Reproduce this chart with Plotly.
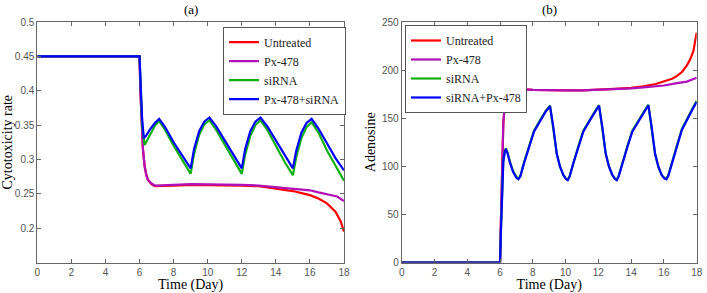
import plotly.graph_objects as go

# ---------------- Panel (a): Cytotoxicity rate ----------------
t_a_red = [0, 6.0, 6.05, 6.1, 6.2, 6.3, 6.4, 6.5, 6.7, 6.9, 7.5, 8, 9, 10, 11, 12, 13, 14, 15, 16, 16.5, 17, 17.5, 17.8, 18]
a_untreated = [0.45, 0.45, 0.40, 0.36, 0.315, 0.29, 0.277, 0.27, 0.264, 0.261, 0.261, 0.262, 0.263, 0.263, 0.263, 0.262, 0.261, 0.2576, 0.254, 0.248, 0.243, 0.236, 0.224, 0.21, 0.195]

t_a_px = [0, 6.0, 6.05, 6.1, 6.2, 6.3, 6.4, 6.5, 6.7, 6.9, 7.5, 8, 9, 10, 11, 12, 13, 14, 15, 16, 16.5, 17, 17.3, 17.6, 18]
a_px478 = [0.45, 0.45, 0.40, 0.36, 0.315, 0.29, 0.277, 0.27, 0.265, 0.262, 0.262, 0.263, 0.264, 0.264, 0.264, 0.263, 0.262, 0.260, 0.2576, 0.2551, 0.252, 0.249, 0.248, 0.246, 0.2395]

t_a_si = [0, 6.0, 6.08, 6.15, 6.3, 6.45, 6.6, 6.9, 7.15, 7.5, 8, 8.5, 9, 9.2, 9.5, 9.8, 10.1, 10.5, 11, 11.5, 12, 12.2, 12.5, 12.8, 13.1, 13.5, 14, 14.5, 15, 15.2, 15.5, 15.8, 16.1, 16.5, 17, 17.5, 18]
a_sirna = [0.45, 0.45, 0.40, 0.35, 0.321, 0.328, 0.337, 0.349, 0.356, 0.343, 0.32, 0.299, 0.279, 0.308, 0.336, 0.351, 0.357, 0.343, 0.321, 0.299, 0.279, 0.307, 0.334, 0.350, 0.357, 0.343, 0.319, 0.297, 0.277, 0.304, 0.331, 0.347, 0.354, 0.339, 0.313, 0.290, 0.269]

t_a_combo = [0, 6.0, 6.08, 6.15, 6.25, 6.4, 6.6, 6.9, 7.15, 7.5, 8.0, 8.5, 9.0, 9.2, 9.5, 9.8, 10.1, 10.5, 11.0, 11.5, 12.0, 12.2, 12.5, 12.8, 13.1, 13.5, 14, 14.5, 15, 15.2, 15.5, 15.8, 16.1, 16.5, 17, 17.5, 18]
a_combo = [0.45, 0.45, 0.40, 0.36, 0.331, 0.335, 0.343, 0.353, 0.359, 0.347, 0.325, 0.305, 0.287, 0.315, 0.341, 0.355, 0.361, 0.348, 0.327, 0.306, 0.287, 0.315, 0.341, 0.355, 0.361, 0.348, 0.327, 0.306, 0.287, 0.313, 0.339, 0.353, 0.359, 0.345, 0.323, 0.302, 0.284]

# ---------------- Panel (b): Adenosine ----------------
t_b_red = [0, 6.0, 6.05, 6.1, 6.15, 6.2, 6.3, 6.4, 6.5, 6.6, 6.8, 7.0, 8, 9, 10, 11, 12, 13, 14, 14.75, 15.5, 16, 16.5, 16.8, 17.1, 17.4, 17.6, 17.8, 17.9, 18]
b_untreated = [0, 0, 40, 85, 120, 145, 165, 174, 178, 180, 181, 180.5, 179.5, 179, 179, 179, 179.5, 180.5, 181.5, 183, 185.5, 188, 191, 194, 198, 205, 211, 220, 228, 239]

t_b_px = [0, 6.0, 6.05, 6.1, 6.15, 6.2, 6.3, 6.4, 6.5, 6.6, 6.8, 7.0, 8, 9, 10, 11, 12, 13, 14, 14.75, 15.5, 16, 16.8, 17.4, 18]
b_px478 = [0, 0, 40, 85, 120, 145, 165, 174, 178, 180, 181, 180.5, 179.5, 179, 179, 179, 179.5, 180, 181, 182, 183, 184, 186.4, 188, 192]

t_b_si = [0, 6.0, 6.05, 6.1, 6.2, 6.3, 6.36, 6.45, 6.6, 6.8, 7.0, 7.12, 7.24, 7.46, 7.77, 8.07, 8.48, 8.79, 9.05, 9.25, 9.46, 9.66, 9.86, 10.01, 10.13, 10.25, 10.47, 10.78, 11.08, 11.49, 11.8, 12.04, 12.24, 12.45, 12.65, 12.85, 13.0, 13.12, 13.24, 13.46, 13.77, 14.07, 14.48, 14.8, 15.05, 15.25, 15.46, 15.66, 15.86, 16.02, 16.15, 16.27, 16.49, 16.8, 17.1, 17.5, 17.8, 18]
b_sirna = [0, 0, 31, 66, 106, 117, 118.5, 115, 105, 95, 89, 87, 90, 104, 121, 137, 149, 157.5, 163, 141, 113, 99.5, 91, 87.5, 86, 90, 104, 121, 137, 149, 157.5, 163.5, 141, 113, 99.5, 91, 87.5, 86, 90, 104, 121, 137, 149, 157.5, 164, 141, 113, 99.5, 91, 88, 87, 91, 105, 122, 139, 153, 162, 168]

t_b_combo = [0, 6.0, 6.05, 6.1, 6.2, 6.3, 6.36, 6.45, 6.6, 6.8, 7.0, 7.12, 7.24, 7.46, 7.77, 8.07, 8.48, 8.79, 9.05, 9.25, 9.46, 9.66, 9.86, 10.01, 10.13, 10.25, 10.47, 10.78, 11.08, 11.49, 11.8, 12.04, 12.24, 12.45, 12.65, 12.85, 13.0, 13.12, 13.24, 13.46, 13.77, 14.07, 14.48, 14.8, 15.05, 15.25, 15.46, 15.66, 15.86, 16.02, 16.15, 16.27, 16.49, 16.8, 17.1, 17.5, 17.8, 18]
b_combo = [0, 0, 30, 65, 105, 116, 117.4, 114, 104, 94, 88, 86.5, 89.5, 103, 120, 136, 148, 157, 162.5, 141, 113, 99.5, 91, 87, 85.6, 89.5, 103, 120, 136, 148, 157, 163, 141, 113, 99.5, 91, 87, 85.6, 89.5, 103, 120, 136, 148, 157, 163.5, 141, 113, 99.5, 91, 87.5, 86.5, 90, 104, 121, 138, 152, 161, 166.7]

x_ticks = [0, 2, 4, 6, 8, 10, 12, 14, 16, 18]
a_yticks = [0.2, 0.25, 0.3, 0.35, 0.4, 0.45, 0.5]
a_yticktext = ["0.2", "0.25", "0.3", "0.35", "0.4", "0.45", "0.5"]
b_yticks = [0, 50, 100, 150, 200, 250]

names_a = ["Untreated", "Px-478", "siRNA", "Px-478+siRNA"]
names_b = ["Untreated", "Px-478", "siRNA", "siRNA+Px-478"]
colors = ["#FF0000", "#B010B8", "#10B010", "#0000FF"]

SERIF = "Liberation Serif"
SANS = "Liberation Sans"

fig = go.Figure()

series_a = [(t_a_red, a_untreated), (t_a_px, a_px478), (t_a_si, a_sirna), (t_a_combo, a_combo)]
for (tx, vy), nm, c in zip(series_a, names_a, colors):
    fig.add_trace(go.Scatter(x=tx, y=vy, mode="lines", name=nm,
                             line=dict(color=c, width=2.2),
                             xaxis="x", yaxis="y", legend="legend"))

series_b = [(t_b_red, b_untreated), (t_b_px, b_px478), (t_b_si, b_sirna), (t_b_combo, b_combo)]
for (tx, vy), nm, c in zip(series_b, names_b, colors):
    fig.add_trace(go.Scatter(x=tx, y=vy, mode="lines", name=nm,
                             line=dict(color=c, width=2.2),
                             xaxis="x2", yaxis="y2", legend="legend2"))

axcommon = dict(showline=True, linecolor="#666", linewidth=1, mirror="ticks",
                ticks="inside", ticklen=4, tickcolor="#666", showgrid=False,
                zeroline=False, automargin=False,
                tickfont=dict(family=SANS, size=10, color="#555"))

ytop = 1 - 22 / 293
ybot = 1 - 262.5 / 293
title_font = dict(family=SERIF, size=14, color="black")
legend_font = dict(family=SERIF, size=12, color="#222")

fig.update_layout(
    width=707, height=293,
    margin=dict(l=0, r=0, t=0, b=0, autoexpand=False),
    paper_bgcolor="white", plot_bgcolor="white",
    showlegend=True,
    xaxis=dict(domain=[37.3 / 707, 344 / 707], range=[0, 18], tickvals=x_ticks,
               title=dict(text="Time (Day)", font=title_font, standoff=3),
               anchor="y", **axcommon),
    yaxis=dict(domain=[ybot, ytop], range=[0.15, 0.5], tickvals=a_yticks, ticktext=a_yticktext,
               title=dict(text="Cytotoxicity rate", font=title_font, standoff=3),
               anchor="x", **axcommon),
    xaxis2=dict(domain=[401.7 / 707, 696.7 / 707], range=[0, 18], tickvals=x_ticks,
                title=dict(text="Time (Day)", font=title_font, standoff=3),
                anchor="y2", **axcommon),
    yaxis2=dict(domain=[ybot, ytop], range=[0, 250], tickvals=b_yticks,
                title=dict(text="Adenosine", font=title_font, standoff=3),
                anchor="x2", **axcommon),
    legend=dict(x=223 / 707, y=1 - 26.7 / 293, xanchor="left", yanchor="top",
                bgcolor="white", bordercolor="#555", borderwidth=1,
                font=legend_font, itemwidth=30),
    legend2=dict(x=405 / 707, y=1 - 25 / 293, xanchor="left", yanchor="top",
                 bgcolor="white", bordercolor="#555", borderwidth=1,
                 font=legend_font, itemwidth=30),
    annotations=[
        dict(text="(a)", x=(37.3 + 344) / 2 / 707, y=1 - 10 / 293, xref="paper", yref="paper",
             showarrow=False, font=dict(family=SERIF, size=13, color="black"), xanchor="center", yanchor="middle"),
        dict(text="(b)", x=(401.7 + 696.7) / 2 / 707, y=1 - 10 / 293, xref="paper", yref="paper",
             showarrow=False, font=dict(family=SERIF, size=13, color="black"), xanchor="center", yanchor="middle"),
    ],
)

fig.write_html("out.html")
